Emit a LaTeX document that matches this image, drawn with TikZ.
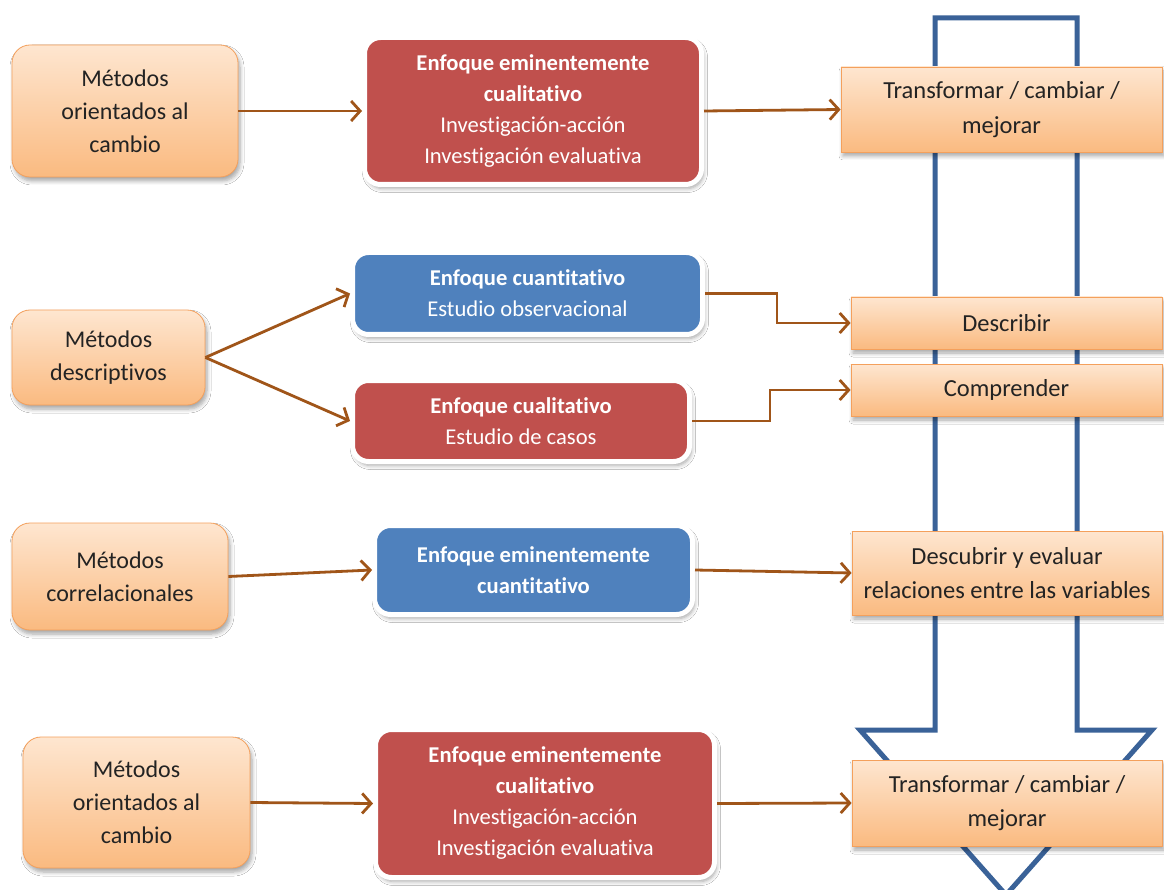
\documentclass[tikz,border=0pt]{standalone}
\usepackage{fontspec}
\setmainfont{Carlito}[Ligatures=CommonOff]
\usetikzlibrary{arrows.meta,shadows.blur}

\definecolor{arrowbrown}{RGB}{160,85,25}
\definecolor{flowblue}{RGB}{58,98,152}
\definecolor{boxred}{RGB}{192,80,77}
\definecolor{boxblue}{RGB}{79,129,189}
\definecolor{peachtop}{RGB}{254,230,208}
\definecolor{peachbot}{RGB}{250,186,128}
\definecolor{peachline}{RGB}{244,160,92}
\definecolor{inktext}{RGB}{35,35,35}

\tikzset{
  softshadow/.style={blur shadow={shadow xshift=2pt, shadow yshift=-4pt,
      shadow opacity=35, shadow blur radius=4pt, shadow blur steps=6}},
  method/.style={rectangle, rounded corners=18pt, draw=peachline, line width=0.8pt,
      top color=peachtop, bottom color=peachbot, text=inktext, align=center,
      inner sep=0pt, font=\fontsize{24}{33}\selectfont, softshadow},
  approach/.style={rectangle, rounded corners=16pt, draw=white, line width=5pt,
      text=white, align=center, inner sep=0pt,
      font=\fontsize{22.6}{31}\selectfont, softshadow},
  redbox/.style={approach, fill=boxred},
  bluebox/.style={approach, fill=boxblue},
  goal/.style={rectangle, draw=peachline, line width=0.8pt,
      top color=peachtop, bottom color=peachbot, text=inktext, align=center,
      inner sep=0pt, font=\fontsize{24.5}{34.5}\selectfont, softshadow},
  link/.style={draw=arrowbrown, line width=2.8pt,
      -{Straight Barb[length=9pt,width=20pt]}},
  bigarrow/.style={draw=flowblue, line width=5pt, line join=miter},
}

\begin{document}
\begin{tikzpicture}[x=1pt,y=-1pt]
\useasboundingbox (0,0) rectangle (1164,890);
\fill[white] (0,0) rectangle (1164,890);

% large downward arrow behind the goal boxes
\begin{scope}
  \clip (0,0) rectangle (1164,890);
  \draw[bigarrow] (935,730) -- (935,18) -- (1077,18) -- (1077,730)
    -- (1152,730) -- (1006,895) -- (860,730) -- cycle;
\end{scope}

% row 1
\node[method, minimum width=226, minimum height=132] (m1) at (125,111)
  {Métodos\\orientados al\\cambio};
\node[redbox, minimum width=337, minimum height=147] (e1) at (533,111)
  {\textbf{Enfoque eminentemente}\\\textbf{cualitativo}\\Investigación-acción\\Investigación evaluativa};
\node[goal, minimum width=321, minimum height=85] (g1) at (1001.5,109.5)
  {Transformar / cambiar /\\mejorar};

% row 2
\node[method, minimum width=193, minimum height=95] (m2) at (108.5,357.5)
  {Métodos\\descriptivos};
\node[bluebox, minimum width=350, minimum height=82] (e2a) at (527.5,293.5)
  {\textbf{Enfoque cuantitativo}\\Estudio observacional};
\node[redbox, minimum width=337, minimum height=81] (e2b) at (521,421)
  {\textbf{Enfoque cualitativo}\\Estudio de casos};
\node[goal, minimum width=311, minimum height=52] (g2a) at (1006.5,323)
  {Describir};
\node[goal, minimum width=311, minimum height=52] (g2b) at (1006.5,390)
  {Comprender};

% row 3
\node[method, minimum width=216, minimum height=107] (m3) at (120,576.5)
  {Métodos\\correlacionales};
\node[bluebox, minimum width=318, minimum height=89] (e3) at (533.5,570)
  {\textbf{Enfoque eminentemente}\\\textbf{cuantitativo}};
\node[goal, minimum width=310, minimum height=84] (g3) at (1007,573)
  {Descubrir y evaluar\\relaciones entre las variables};

% row 4
\node[method, minimum width=227, minimum height=131] (m4) at (136.5,802.5)
  {Métodos\\orientados al\\cambio};
\node[redbox, minimum width=339, minimum height=148] (e4) at (545,803.5)
  {\textbf{Enfoque eminentemente}\\\textbf{cualitativo}\\Investigación-acción\\Investigación evaluativa};
\node[goal, minimum width=310, minimum height=86] (g4) at (1007,803)
  {Transformar / cambiar /\\mejorar};

% connectors
\draw[link] (m1.east) -- (e1.west);
\draw[link] (e1.east) -- (g1.west);
\draw[link] (m2.east) -- (e2a.west);
\draw[link] (m2.east) -- (e2b.west);
\draw[link] (e2a.east) -- ++(72,0) |- (g2a.west);
\draw[link] (e2b.east) -- ++(78,0) |- (g2b.west);
\draw[link] (m3.east) -- (e3.west);
\draw[link] (e3.east) -- (g3.west);
\draw[link] (m4.east) -- (e4.west);
\draw[link] (e4.east) -- (g4.west);
\end{tikzpicture}
\end{document}
